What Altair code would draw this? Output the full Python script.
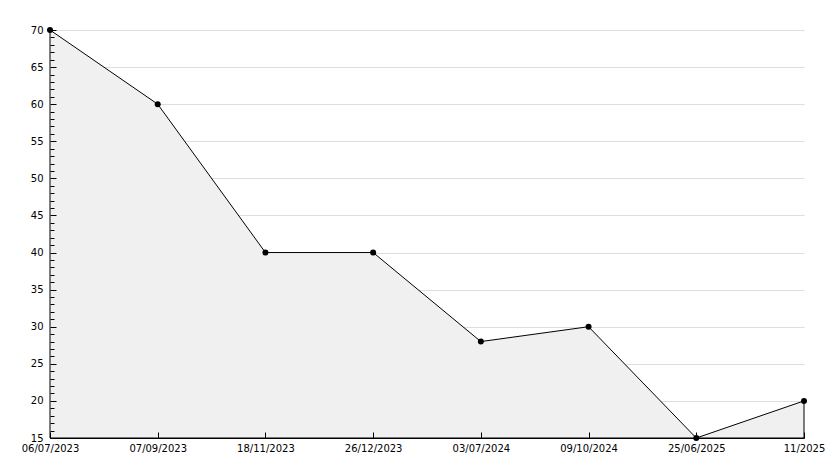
import altair as alt
import pandas as pd

dates = ["06/07/2023", "07/09/2023", "18/11/2023", "26/12/2023",
         "03/07/2024", "09/10/2024", "25/06/2025", "11/2025"]
values = [70, 60, 40, 40, 28, 30, 15, 20]

y_major = list(range(15, 71, 5))
y_all = list(range(15, 71, 1))

df = pd.DataFrame({"date": dates, "value": values})

FONT = "DejaVu Sans"

xscale = alt.Scale(type="point", padding=0)
yscale = alt.Scale(domain=[15, 70], nice=False, zero=False, clamp=True)

base = alt.Chart(df)

area = base.mark_area(fill="#f0f0f0", stroke="black", strokeWidth=1, fillOpacity=1, interpolate="linear").encode(
    x=alt.X("date:N", sort=dates, scale=xscale,
            axis=alt.Axis(title=None, orient="bottom", ticks=False, labelAngle=0,
                          labelFont=FONT, labelFontSize=10, labelColor="black",
                          labelPadding=5, domainColor="black", grid=False,
                          labelOverlap=False)),
    y=alt.Y("value:Q", scale=yscale,
            axis=alt.Axis(title=None, orient="left", ticks=False, values=y_major,
                          labelFont=FONT, labelFontSize=10, labelColor="black",
                          labelPadding=7, domainColor="black", grid=True,
                          gridColor="#dddddd", gridWidth=1)),
)

ticks_layer = base.mark_point(opacity=0).encode(
    x=alt.X("date:N", sort=dates, scale=xscale,
            axis=alt.Axis(title=None, orient="top", offset=-408, ticks=True, tickSize=6,
                          tickColor="black", labels=False, domain=False, grid=False, zindex=1)),
    y=alt.Y("value:Q", scale=yscale,
            axis=alt.Axis(title=None, orient="right", offset=-754, values=y_all,
                          tickSize={"expr": "datum.value % 5 === 0 ? 6 : 4"},
                          tickColor="black", labels=False, domain=False, grid=False, zindex=1)),
)

points = base.mark_point(filled=True, shape="circle", size=36, color="black", opacity=1).encode(
    x=alt.X("date:N", sort=dates, scale=xscale, axis=None),
    y=alt.Y("value:Q", scale=yscale, axis=None),
)

chart = alt.layer(area, ticks_layer, points).resolve_axis(
    x="independent", y="independent"
).properties(
    width=754, height=408,
    background="white",
    autosize=alt.AutoSizeParams(type="none"),
    padding={"left": 42, "top": 22, "right": 22, "bottom": 22},
).configure_view(strokeWidth=0, strokeOpacity=0)

chart.save("out.html", embed_options={"renderer": "svg", "actions": False})
